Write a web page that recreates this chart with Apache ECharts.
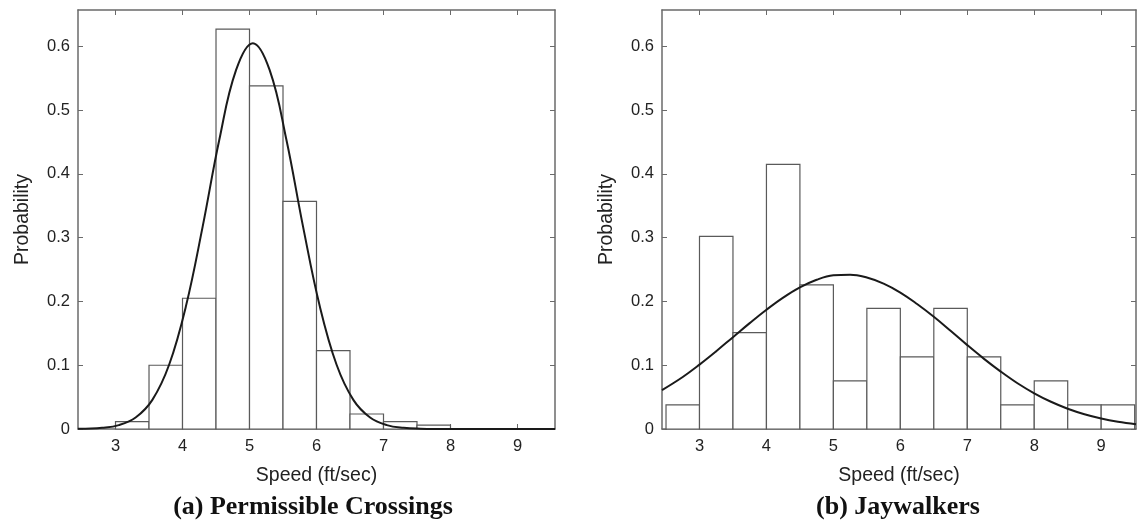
<!DOCTYPE html>
<html>
<head>
<meta charset="utf-8">
<script src="https://cdn.jsdelivr.net/npm/echarts@6/dist/echarts.min.js"></script>
<style>
  html, body { margin: 0; padding: 0; background: #fff; }
  #chart { width: 1138px; height: 527px; }
</style>
</head>
<body>
<div id="chart"></div>
<script>
// histogram bins (ft/sec), bin width 0.5
var binStarts = [2.5, 3, 3.5, 4, 4.5, 5, 5.5, 6, 6.5, 7, 7.5, 8, 8.5, 9];
var permissibleProb = [0, 0.0115, 0.100, 0.205, 0.627, 0.538, 0.357, 0.123, 0.0235, 0.0115, 0.006, 0, 0, 0];
var jaywalkerProb = [0.0377, 0.302, 0.151, 0.415, 0.226, 0.0755, 0.189, 0.113, 0.189, 0.113, 0.0377, 0.0755, 0.0377, 0.0377];

// fitted normal curves
var permCurveX = [2.44, 2.55, 2.8, 3.05, 3.3, 3.55, 3.8, 4.05, 4.3, 4.55, 4.8, 5.05, 5.3, 5.55, 5.8, 6.05, 6.3, 6.55, 6.8, 7.05, 7.3, 7.55, 8, 9.56];
var permCurveY = [0.0002, 0.0005, 0.0018, 0.0061, 0.018, 0.0457, 0.1007, 0.192, 0.317, 0.454, 0.563, 0.605, 0.563, 0.454, 0.317, 0.192, 0.1007, 0.0457, 0.018, 0.0061, 0.0018, 0.0005, 0, 0];
var jayCurveX = [2.44, 2.75, 3, 3.25, 3.5, 3.75, 4, 4.25, 4.5, 4.75, 5, 5.25, 5.5, 5.75, 6, 6.25, 6.5, 6.75, 7, 7.25, 7.5, 7.75, 8, 8.25, 8.5, 8.75, 9, 9.25, 9.52];
var jayCurveY = [0.061, 0.0816, 0.101, 0.122, 0.144, 0.166, 0.187, 0.206, 0.222, 0.234, 0.241, 0.242, 0.2375, 0.228, 0.214, 0.196, 0.176, 0.154, 0.1315, 0.110, 0.090, 0.0717, 0.056, 0.0427, 0.0318, 0.0232, 0.0165, 0.0115, 0.0076];

var xTicks = [3, 4, 5, 6, 7, 8, 9];
var yTicks = [0, 0.1, 0.2, 0.3, 0.4, 0.5, 0.6];

var axisGray = '#6a6a6a';
var textColor = '#222';
var sans = 'Liberation Sans, Arial, sans-serif';

function binData(values) {
    var out = [];
    for (var i = 0; i < binStarts.length; i++) {
        if (values[i] > 0) out.push([binStarts[i], binStarts[i] + 0.5, values[i]]);
    }
    return out;
}

function zip(xs, ys) {
    return xs.map(function (x, i) { return [x, ys[i]]; });
}

function renderBin(params, api) {
    var p0 = api.coord([api.value(0), api.value(2)]);
    var p1 = api.coord([api.value(1), 0]);
    return {
        type: 'rect',
        shape: { x: p0[0], y: p0[1], width: p1[0] - p0[0], height: p1[1] - p0[1] },
        style: { fill: '#fff', stroke: '#5a5a5a', lineWidth: 1.2 }
    };
}

function xAxisFor(gridIndex, max, top) {
    return {
        type: 'value', gridIndex: gridIndex, position: top ? 'top' : 'bottom',
        min: 2.44, max: max,
        name: top ? '' : 'Speed (ft/sec)', nameLocation: 'middle', nameGap: 37,
        nameTextStyle: { color: textColor, fontFamily: sans, fontSize: 19.5 },
        axisLine: { show: true, onZero: false, lineStyle: { color: axisGray, width: 1.5 } },
        axisTick: { show: true, inside: true, length: 5, customValues: xTicks, lineStyle: { color: axisGray } },
        axisLabel: { show: !top, customValues: xTicks, margin: 9, color: textColor, fontFamily: sans, fontSize: 16.5 },
        splitLine: { show: false }
    };
}

function yAxisFor(gridIndex, right) {
    return {
        type: 'value', gridIndex: gridIndex, position: right ? 'right' : 'left',
        min: 0, max: 0.657,
        name: right ? '' : 'Probability', nameLocation: 'middle', nameGap: 45,
        nameTextStyle: { color: textColor, fontFamily: sans, fontSize: 19.5 },
        axisLine: { show: true, onZero: false, lineStyle: { color: axisGray, width: 1.5 } },
        axisTick: { show: true, inside: true, length: 5, customValues: yTicks, lineStyle: { color: axisGray } },
        axisLabel: {
            show: !right, customValues: yTicks, margin: 8, color: textColor, fontFamily: sans, fontSize: 16.5,
            formatter: function (v) { return v === 0 ? '0' : v.toFixed(1); }
        },
        splitLine: { show: false }
    };
}

var chart = echarts.init(document.getElementById('chart'));

var option = {
    backgroundColor: '#fff',
    animation: false,
    grid: [
        { left: 78, top: 10, width: 477, height: 419 },
        { left: 662, top: 10, width: 474, height: 419 }
    ],
    xAxis: [
        xAxisFor(0, 9.56, false), xAxisFor(0, 9.56, true),
        xAxisFor(1, 9.52, false), xAxisFor(1, 9.52, true)
    ],
    yAxis: [
        yAxisFor(0, false), yAxisFor(0, true),
        yAxisFor(1, false), yAxisFor(1, true)
    ],
    series: [
        {
            type: 'custom', xAxisIndex: 0, yAxisIndex: 0,
            renderItem: renderBin, encode: { x: [0, 1], y: 2 },
            data: binData(permissibleProb), z: 2
        },
        {
            type: 'line', xAxisIndex: 0, yAxisIndex: 0, smooth: 0.4, showSymbol: false,
            lineStyle: { color: '#1a1a1a', width: 2 },
            data: zip(permCurveX, permCurveY), z: 3
        },
        {
            type: 'custom', xAxisIndex: 2, yAxisIndex: 2,
            renderItem: renderBin, encode: { x: [0, 1], y: 2 },
            data: binData(jaywalkerProb), z: 2
        },
        {
            type: 'line', xAxisIndex: 2, yAxisIndex: 2, smooth: 0.4, showSymbol: false,
            lineStyle: { color: '#1a1a1a', width: 2 },
            data: zip(jayCurveX, jayCurveY), z: 3
        }
    ],
    graphic: [
        {
            type: 'text', x: 313, y: 507,
            style: { text: '(a) Permissible Crossings', textAlign: 'center', textVerticalAlign: 'middle',
                     font: 'bold 26px "Liberation Serif", "Times New Roman", serif', fill: '#111' }
        },
        {
            type: 'text', x: 898, y: 507,
            style: { text: '(b) Jaywalkers', textAlign: 'center', textVerticalAlign: 'middle',
                     font: 'bold 26px "Liberation Serif", "Times New Roman", serif', fill: '#111' }
        }
    ]
};

chart.setOption(option);
</script>
</body>
</html>
